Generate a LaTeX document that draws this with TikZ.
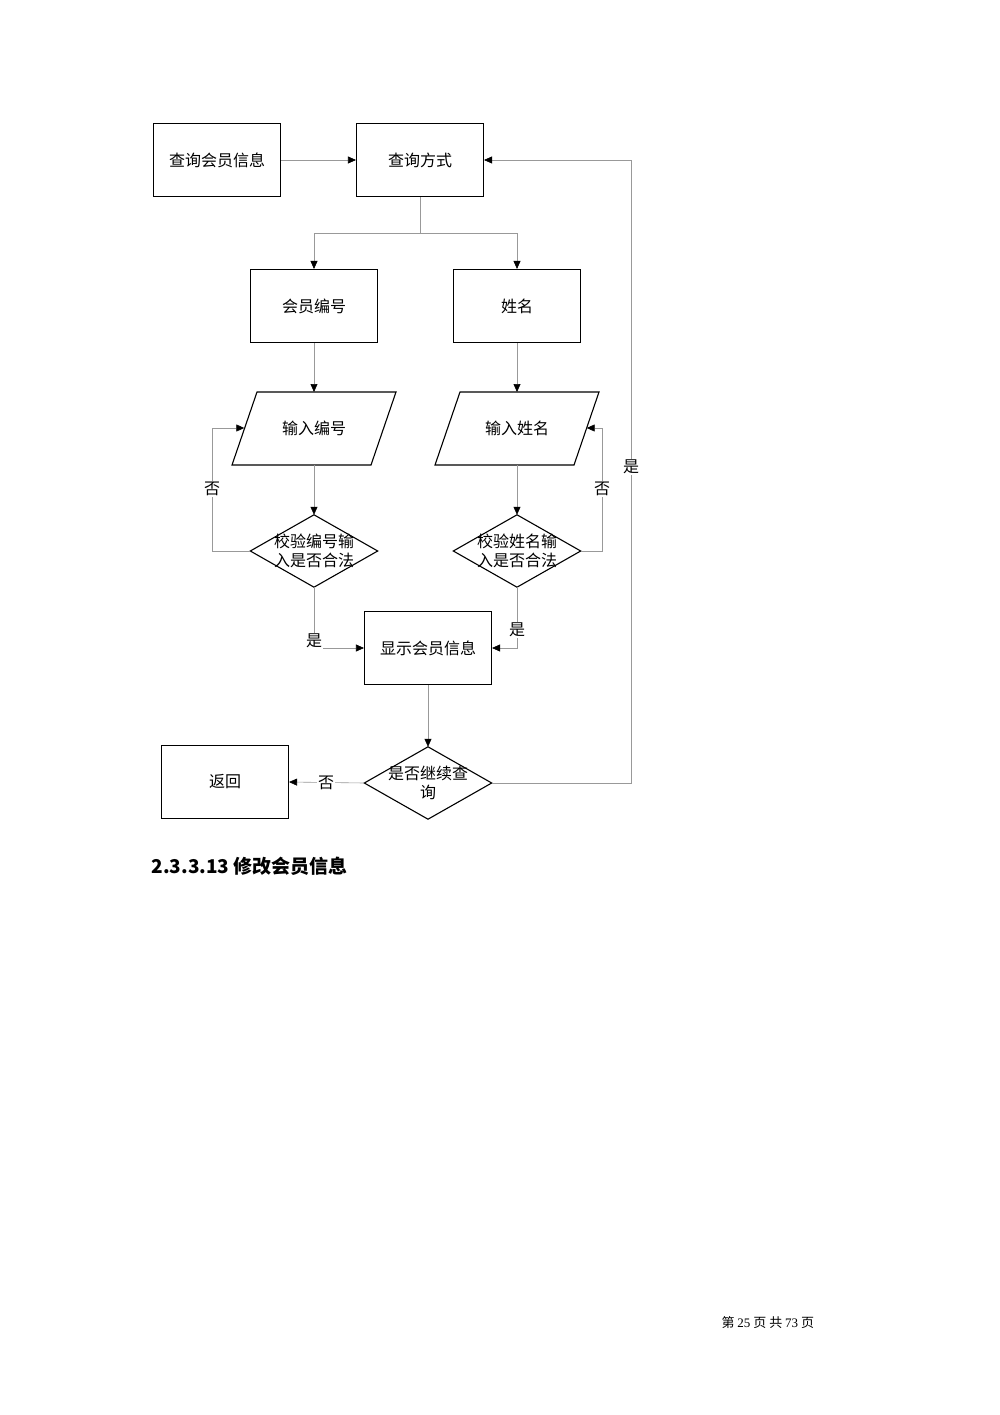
\documentclass[tikz,border=0pt]{standalone}
\usepackage{fontspec}
\setmainfont{Noto Sans CJK SC}
\newfontfamily\serifcjk{Liberation Serif}
\usetikzlibrary{arrows.meta}
\begin{document}
\begin{tikzpicture}[x=1pt,y=-1pt,
  every node/.style={font=\fontsize{16}{19}\selectfont},
  box/.style={draw,line width=1.1pt,minimum width=127pt,minimum height=73pt,inner sep=0},
  ghost/.style={draw=none,minimum width=127pt,minimum height=72pt,inner sep=0,align=center},
  conn/.style={draw=gray!80,line width=0.6pt,-{Triangle[black,length=8pt,width=7pt]}},
  lab/.style={fill=white,inner sep=1pt}]
\useasboundingbox[fill=white] (0,0) rectangle (1000,1415);
\node[box] (q) at (217,160) {查询会员信息};
\node[box] (m) at (420,160) {查询方式};
\node[box] (b1) at (314,306) {会员编号};
\node[box] (b2) at (517,306) {姓名};
\node[ghost,minimum width=139pt,minimum height=73pt] (p1) at (314,428) {输入编号};
\node[ghost,minimum width=139pt,minimum height=73pt] (p2) at (517,428) {输入姓名};
\foreach \c in {314,517}
  \draw[line width=1.1pt] (\c-57,392) -- (\c+82,392) -- (\c+57,465) -- (\c-82,465) -- cycle;
\node[ghost] (d1) at (314,551) {校验编号输\\入是否合法};
\node[ghost] (d2) at (517,551) {校验姓名输\\入是否合法};
\node[box] (s) at (428,648) {显示会员信息};
\node[ghost] (d3) at (428,783) {是否继续查\\询};
\node[box] (r) at (225,782) {返回};
\foreach \n in {d1,d2,d3}
  \draw[line width=1.1pt] (\n.west) -- (\n.north) -- (\n.east) -- (\n.south) -- cycle;
\draw[conn] (q) -- (m);
\draw[conn] (m.south) -- (420,233) -| (b1.north);
\draw[conn] (420,233) -| (b2.north);
\draw[conn] (b1) -- (314,392);
\draw[conn] (b2) -- (517,392);
\draw[conn] (314,465) -- (d1.north);
\draw[conn] (517,465) -- (d2.north);
\draw[conn] (d1.west) -- (212,551) -- (212,428) -- (p1.west);
\node[lab] at (212,489) {否};
\draw[conn] (d2.east) -- (602,551) -- (602,428) -- (p2.east);
\node[lab] at (602,489) {否};
\draw[conn] (d1.south) |- (s.west);
\node[lab] at (314,641) {是};
\draw[conn] (d2.south) |- (s.east);
\node[lab] at (517,630) {是};
\draw[conn] (s) -- (d3.north);
\draw[conn] (d3.west) -- (r.east);
\node[lab] at (326,783) {否};
\draw[conn] (d3.east) -- (631,783) -- (631,160) -- (m.east);
\node[lab] at (631,467) {是};
\node[anchor=west,font=\fontsize{19}{22}\selectfont\bfseries] (h) at (148,866) {2.3.3.13 修改会员信息};
\node[anchor=west,font=\fontsize{13}{15}\selectfont] (f) at (718,1323) {第 {\serifcjk 25} 页 共 {\serifcjk 73} 页};
\end{tikzpicture}
\end{document}
